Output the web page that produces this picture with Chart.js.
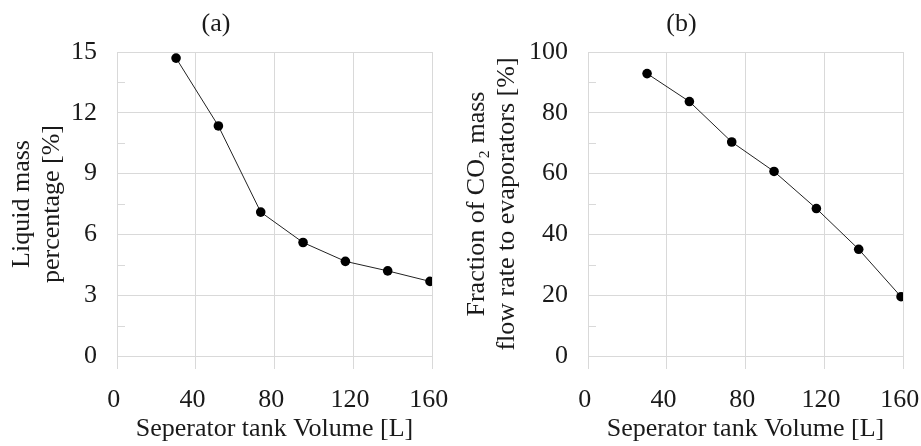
<!DOCTYPE html>
<html>
<head>
<meta charset="utf-8">
<script src="https://cdn.jsdelivr.net/npm/chart.js@4/dist/chart.umd.min.js"></script>
<style>
  html, body { margin: 0; padding: 0; background: #fff; }
  .row { display: flex; width: 921px; height: 446px; }
  canvas { display: block; }
</style>
</head>
<body>
<div class="row">
  <canvas id="chart-a" width="460" height="446"></canvas>
  <canvas id="chart-b" width="461" height="446"></canvas>
</div>
<script>
// Separator tank volume [L] shared by both panels
const tankVolume = [30, 51.5, 73, 94.5, 116, 137.5, 159];
// (a) liquid mass percentage [%]
const liquidMassPct = [14.7, 11.35, 7.1, 5.6, 4.67, 4.2, 3.68];
// (b) fraction of CO2 mass flow rate to evaporators [%]
const co2Fraction = [92.9, 83.7, 70.4, 60.7, 48.5, 35.1, 19.5];

const xTicks = [0, 40, 80, 120, 160];

const serif = "'Liberation Serif', 'Times New Roman', serif";
const textColor = '#1a1a1a';
const gridColor = '#d9d9d9';

// Short inward tick marks at the half steps of the y axis
const minorTicks = {
  id: 'minorTicks',
  beforeDatasetsDraw(chart) {
    const y = chart.scales.y;
    const left = chart.chartArea.left;
    const ctx = chart.ctx;
    ctx.save();
    ctx.strokeStyle = gridColor;
    ctx.lineWidth = 1;
    y.ticks.forEach((t, i) => {
      if (i % 2 === 0) return;
      const py = Math.round(y.getPixelForValue(t.value)) + 0.5;
      ctx.beginPath();
      ctx.moveTo(left, py);
      ctx.lineTo(left + 8, py);
      ctx.stroke();
    });
    ctx.restore();
  }
};

function makePanel(canvasId, label, values, yMax, yStep, yTitle, axisWidth, titlePad, rightPad) {
  const ctx = document.getElementById(canvasId).getContext('2d');
  return new Chart(ctx, {
    type: 'scatter',
    data: {
      datasets: [{
        data: tankVolume.map((v, i) => ({ x: v, y: values[i] })),
        showLine: true,
        borderColor: '#222',
        borderWidth: 1,
        pointRadius: 4.8,
        pointBackgroundColor: '#000',
        pointBorderColor: '#000',
        pointBorderWidth: 0
      }]
    },
    options: {
      responsive: false,
      animation: false,
      layout: { padding: { left: 0, right: rightPad, top: 0, bottom: 0 } },
      plugins: {
        legend: { display: false },
        tooltip: { enabled: false },
        title: {
          display: true,
          text: label,
          color: textColor,
          font: { family: serif, size: 26, weight: 'normal', lineHeight: 1.2 },
          padding: { top: 8.4, bottom: 12.4 }
        }
      },
      scales: {
        x: {
          type: 'linear',
          min: 0,
          max: 160,
          afterBuildTicks: (s) => { s.ticks = xTicks.map(v => ({ value: v })); },
          afterFit: (s) => {
            s.height = 90;
            s.paddingLeft = 0;
            s.paddingRight = 0;
          },
          grid: { color: gridColor, drawTicks: true, tickLength: 13, tickColor: gridColor },
          border: { color: gridColor },
          ticks: {
            color: textColor,
            font: { family: serif, size: 26 },
            padding: 16,
            maxRotation: 0,
            callback: (v) => v + ' '
          },
          title: {
            display: true,
            text: 'Seperator tank Volume [L]',
            color: textColor,
            font: { family: serif, size: 26, lineHeight: 1.2 },
            padding: { top: 0, bottom: 1 }
          }
        },
        y: {
          min: 0,
          max: yMax,
          afterFit: (s) => { s.width = axisWidth; },
          grid: {
            color: (c) => (c.index % 2 ? 'transparent' : gridColor),
            drawTicks: false
          },
          border: { color: gridColor },
          ticks: {
            stepSize: yStep,
            autoSkip: false,
            color: textColor,
            font: { family: serif, size: 26 },
            padding: 20,
            callback: (v, i) => (i % 2 ? '' : v)
          },
          title: {
            display: true,
            text: yTitle,
            color: textColor,
            font: { family: serif, size: 26, lineHeight: 1.15 },
            padding: { top: titlePad, bottom: 0 }
          }
        }
      }
    },
    plugins: [minorTicks]
  });
}

makePanel('chart-a', '(a)', liquidMassPct, 15, 1.5,
  ['Liquid mass', 'percentage [%]'], 117, 7, 28);
makePanel('chart-b', '(b)', co2Fraction, 100, 10,
  ['Fraction of CO\u2082 mass', 'flow rate to evaporators [%]'], 128, 2, 18);
</script>
</body>
</html>
